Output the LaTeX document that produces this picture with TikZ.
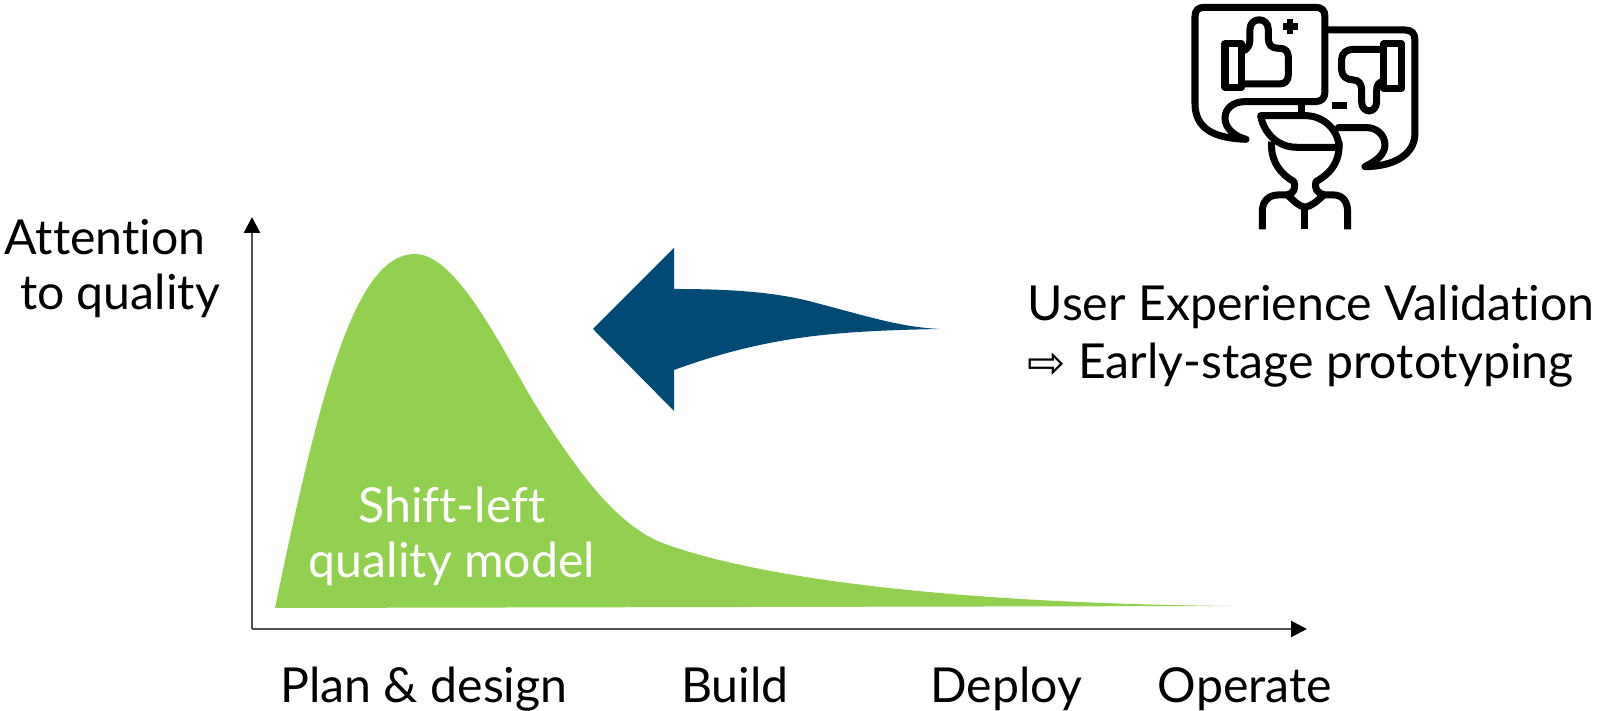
\documentclass[tikz,border=0pt]{standalone}
\usepackage{fontspec}
\setmainfont{Lato}[Ligatures=NoCommon]
\newfontfamily\symfont{DejaVu Sans}
\usetikzlibrary{arrows.meta}
\definecolor{shiftgreen}{HTML}{92D050}
\definecolor{arrowblue}{HTML}{004B76}
\definecolor{axisgray}{HTML}{505050}
\tikzset{
    label/.style={inner sep=0pt, anchor=base, font=\fontsize{13.72}{16}\selectfont},
    axisline/.style={-{Triangle[black,length=1.6mm,width=1.6mm]}, line width=0.65pt, axisgray},
    iconline/.style={line width=2pt, line join=round}
}
\begin{document}
\begin{tikzpicture}
    \useasboundingbox (0,0) rectangle (15.98,7.11);

    % Area sotto la curva
    \fill[shiftgreen] (2.75,1.03) .. controls (3.20,3.20) and (3.55,4.57) .. (4.15,4.57)
        .. controls (4.60,4.57) and (5.08,3.48) .. (5.43,2.94)
        .. controls (5.78,2.40) and (6.15,1.88) .. (6.60,1.69)
        .. controls (7.40,1.38) and (9.20,1.08) .. (12.33,1.05) -- cycle;

    % Assi
    \coordinate (origin) at (2.52,0.82);
    \coordinate (ytip) at (2.52,4.94);
    \coordinate (xtip) at (13.07,0.82);
    \draw[axisline] (origin) -- (ytip);
    \draw[axisline] (origin) -- (xtip);

    % Freccia
    \fill[arrowblue] (5.93,3.82) -- (6.74,4.63) -- (6.74,4.22)
        .. controls (7.45,4.22) and (7.85,4.17) .. (8.20,4.07)
        .. controls (8.70,3.94) and (9.00,3.84) .. (9.40,3.82)
        .. controls (8.40,3.80) and (7.70,3.76) .. (6.74,3.41)
        -- (6.74,3.00) -- cycle;

    % Testi
    \node[label] (attention) at (1.05,4.56) {Attention};
    \node[label] (toquality) at (1.20,4.01) {to quality};
    \node[label, white] (shiftleft) at (4.52,1.88) {Shift-left};
    \node[label, white] (qualitymodel) at (4.52,1.33) {quality model};
    \node[label] (plan) at (4.24,0.08) {Plan \& design};
    \node[label] (build) at (7.35,0.08) {Build};
    \node[label] (deploy) at (10.06,0.08) {Deploy};
    \node[label] (operate) at (12.45,0.08) {Operate};
    \node[label, anchor=base west] (validation) at (10.27,3.90) {User Experience Validation};
    \node[label, anchor=base west] (prototyping) at (10.27,3.32) {{\symfont\fontsize{13}{12}\selectfont ⇨} Early-stage prototyping};

    % Icona
    \begin{scope}[shift={(11.70,7.11)}, x=0.03333mm, y=-0.03333mm]
        % fumetto sinistro
        \draw[iconline, line cap=round] (228,418) .. controls (130,415) and (75,385) .. (75,310)
            -- (75,50) .. controls (75,30) and (85,22) .. (105,22)
            -- (435,22) .. controls (455,22) and (465,30) .. (465,50)
            -- (465,275) .. controls (465,295) and (455,305) .. (435,305)
            -- (225,305) .. controls (190,305) and (165,325) .. (165,355)
            .. controls (165,385) and (195,410) .. (228,418);
        % fumetto destro
        \draw[iconline, line cap=round] (470,90) -- (705,90) .. controls (725,90) and (735,100) .. (735,120)
            -- (735,400) .. controls (735,465) and (670,500) .. (585,500)
            .. controls (625,480) and (645,460) .. (645,435)
            .. controls (645,405) and (620,383) .. (590,383) -- (505,383);
        % pollice su
        \draw[iconline] (165,132) rectangle (215,262);
        \draw[iconline] (215,155) .. controls (235,148) and (240,135) .. (240,115)
            -- (240,88) .. controls (240,50) and (295,50) .. (295,88) -- (295,115)
            .. controls (295,135) and (305,145) .. (325,145) -- (330,145)
            .. controls (345,145) and (355,155) .. (355,170) -- (355,225)
            .. controls (355,242) and (345,252) .. (330,252) -- (215,252);
        \draw[line width=1.8pt] (340,80) -- (383,80);
        \draw[line width=1.8pt] (361,58) -- (361,102);
        % pollice giu
        \draw[iconline] (642,132) rectangle (695,265);
        \draw[iconline] (642,148) -- (550,148)
            .. controls (530,148) and (515,160) .. (515,178) -- (515,210)
            .. controls (515,228) and (530,240) .. (550,240)
            .. controls (565,240) and (575,250) .. (575,270) -- (575,305)
            .. controls (575,342) and (620,342) .. (620,305) -- (620,275)
            .. controls (620,255) and (625,245) .. (642,245);
        \fill (487,306) rectangle (530,326);
        % persona
        \draw[iconline] (395,305) -- (395,345);
        \draw[iconline] (272,347) -- (405,347)
            .. controls (465,347) and (507,395) .. (507,442) -- (380,442)
            .. controls (320,442) and (280,395) .. cycle;
        \draw[iconline] (305,425) .. controls (300,485) and (335,525) .. (372,545)
            .. controls (378,565) and (372,580) .. (352,585)
            .. controls (375,605) and (385,618) .. (405,622)
            .. controls (425,618) and (440,605) .. (462,585)
            .. controls (442,580) and (432,565) .. (438,545)
            .. controls (475,525) and (512,490) .. (507,425);
        \draw[iconline] (352,585) -- (325,585) .. controls (295,585) and (277,605) .. (277,635) -- (277,688);
        \draw[iconline] (462,585) -- (490,585) .. controls (518,585) and (533,605) .. (533,635) -- (533,688);
        \draw[iconline] (405,622) -- (405,688);
    \end{scope}
\end{tikzpicture}
\end{document}
